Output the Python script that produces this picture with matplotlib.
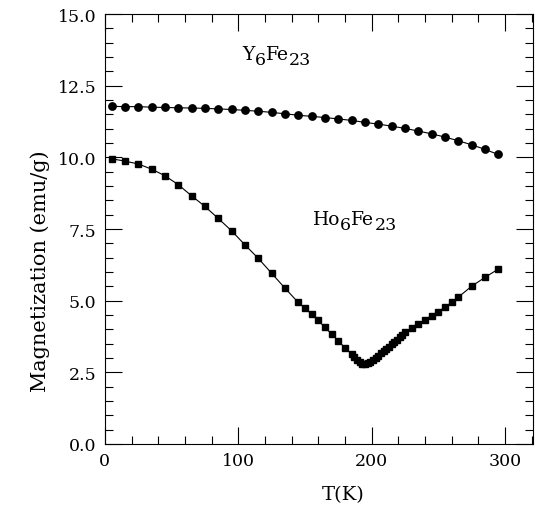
import matplotlib
matplotlib.use("Agg")
import matplotlib.pyplot as plt
from matplotlib.ticker import MultipleLocator
from matplotlib.transforms import offset_copy

# Y6Fe23 (circles)
t_y6fe23 = [5, 15, 25, 35, 45, 55, 65, 75, 85, 95, 105, 115, 125, 135, 145,
            155, 165, 175, 185, 195, 205, 215, 225, 235, 245, 255, 265, 275, 285, 295]
m_y6fe23 = [11.78, 11.77, 11.77, 11.75, 11.74, 11.73, 11.72, 11.71, 11.69, 11.67,
            11.64, 11.61, 11.57, 11.52, 11.47, 11.43, 11.39, 11.34, 11.29, 11.22,
            11.16, 11.09, 11.01, 10.92, 10.82, 10.71, 10.58, 10.44, 10.28, 10.10]

# Ho6Fe23 (squares)
t_ho6fe23 = [5, 15, 25, 35, 45, 55, 65, 75, 85, 95, 105, 115, 125, 135, 145,
             150, 155, 160, 165, 170, 175, 180, 185, 187, 189, 191, 193, 195,
             197, 199, 201, 203, 205, 207, 209, 211, 213, 215, 217, 219, 221,
             223, 225, 230, 235, 240, 245, 250, 255, 260, 265, 275, 285, 295]
m_ho6fe23 = [9.95, 9.87, 9.77, 9.59, 9.36, 9.05, 8.66, 8.29, 7.87, 7.44, 6.95,
             6.48, 5.96, 5.44, 4.94, 4.74, 4.53, 4.31, 4.07, 3.84, 3.60, 3.36,
             3.14, 3.03, 2.93, 2.85, 2.80, 2.79, 2.81, 2.86, 2.93, 3.00, 3.08,
             3.16, 3.24, 3.32, 3.40, 3.48, 3.56, 3.64, 3.72, 3.80, 3.92, 4.04,
             4.19, 4.33, 4.48, 4.62, 4.77, 4.94, 5.12, 5.50, 5.81, 6.10]

x_ticks = [0, 100, 200, 300]
y_ticks = [0.0, 2.5, 5.0, 7.5, 10.0, 12.5, 15.0]

# compound labels: (text, is_subscript) pieces
label_y6 = [("Y", False), ("6", True), ("Fe", False), ("23", True)]
label_ho6 = [("Ho", False), ("6", True), ("Fe", False), ("23", True)]

plt.rcParams['font.family'] = ['DejaVu Serif']

fig = plt.figure(figsize=(5.35, 5.10), dpi=100)
ax = fig.add_axes([0.196, 0.1275, 0.80, 0.843])

ax.plot(t_y6fe23, m_y6fe23, '-o', color='black', lw=0.8, ms=5.3)
ax.plot(t_ho6fe23, m_ho6fe23, '-s', color='black', lw=0.8, ms=5.0)

ax.set_xlim(0, 321)
ax.set_ylim(0, 15)
ax.set_xticks(x_ticks)
ax.set_yticks(y_ticks)
ax.set_xticklabels([str(v) for v in x_ticks])
ax.set_yticklabels([f"{v:.1f}" for v in y_ticks])
ax.xaxis.set_minor_locator(MultipleLocator(20))
ax.yaxis.set_minor_locator(MultipleLocator(0.5))
ax.tick_params(which='both', direction='in', top=True, right=True,
               labelsize=12.5, width=0.8)
ax.tick_params(which='major', length=12, pad=6)
ax.tick_params(which='minor', length=6)
for s in ax.spines.values():
    s.set_linewidth(0.8)

ax.set_xlabel('T(K)', fontsize=14)
ax.set_ylabel('Magnetization (emu/g)', fontsize=15)
ax.xaxis.set_label_coords(0.556, -0.095)
ax.yaxis.set_label_coords(-0.128, 0.405)


def place_compound(x, y, pieces, size=13.5, subsize=12.5, drop=5):
    renderer = fig.canvas.get_renderer()
    dx = 0.0
    for txt, sub in pieces:
        tr = offset_copy(ax.transData, fig=fig, x=dx, y=(-drop if sub else 0),
                         units='dots')
        t = ax.text(x, y, txt, fontsize=(subsize if sub else size),
                    va='baseline', ha='left', transform=tr)
        dx += t.get_window_extent(renderer=renderer).width


place_compound(103, 13.43, label_y6)
place_compound(156, 7.67, label_ho6)

fig.savefig('out.png', dpi=100)
